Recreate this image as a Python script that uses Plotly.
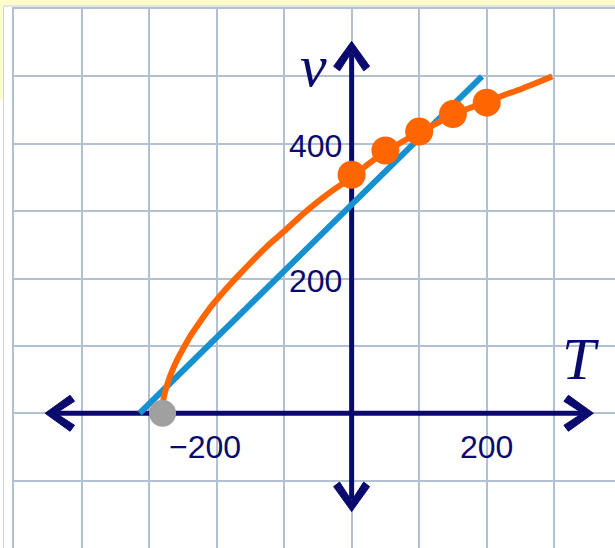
import plotly.graph_objects as go

# ---- data -------------------------------------------------------------
# Linear approximation (blue)
lin_T = [-314, 193]
lin_v = [0, 500]

# Model curve v(T) (orange)
curve_T = [-281, -279, -276, -272, -267, -260, -250, -238, -225, -210, -190,
           -170, -150, -125, -100, -75, -50, -25, 0, 25, 50, 75, 100, 125,
           150, 175, 200, 225, 250, 275, 297]
curve_v = [0, 19, 33, 46, 60, 76, 95, 116, 135, 156, 180,
           202, 223, 248, 270, 293, 314, 333, 350, 370, 388, 403, 417, 430,
           443, 453, 462, 472, 481, 491, 500]

# Measured points (orange dots)
meas_T = [0, 50, 100, 150, 200]
meas_v = [354, 390, 418, 444, 461]

# Absolute-zero point (grey dot)
zero_T = [-280]
zero_v = [0]

# Tick labels
x_ticks = [-200, 200]
x_tick_text = ["\u2212200", "200"]
y_ticks = [200, 400]
y_tick_text = ["200", "400"]

# ---- layout geometry ----------------------------------------------------
W, H = 615, 548
ML, MT = 14, 9
x_range = [-500, 390]
y_range = [-200, 600]
kx = (x_range[1] - x_range[0]) / (W - ML)   # data units per pixel
ky = (y_range[1] - y_range[0]) / (H - MT)

NAVY = "#0A0A6E"
GRID = "#B3BFD3"
ORANGE = "#FF6600"
BLUE = "#1690CF"

# axis extents (arrow tips)
x_axis = [-454, 358]
y_axis = [-146, 552]


def chevron(tx, ty, ux, uy):
    """Filled chevron arrowhead with its tip at (tx, ty) pointing along (ux, uy)."""
    wx, wy = -uy, ux
    pts = [(0, 0), (-25, 18), (-29.5, 12), (-11, 0), (-29.5, -12), (-25, -18)]
    coords = []
    for a, b in pts:
        coords.append((tx + (a * ux + b * wx) * kx, ty + (a * uy + b * wy) * ky))
    path = "M" + " L".join(f"{x:.3f},{y:.3f}" for x, y in coords) + " Z"
    return dict(type="path", xref="x", yref="y", path=path, fillcolor=NAVY,
                line=dict(color=NAVY, width=1), layer="between")


shapes = []
# axis lines
back = 12
shapes.append(dict(type="line", xref="x", yref="y",
                   x0=x_axis[0] + back * kx, x1=x_axis[1] - back * kx, y0=0, y1=0,
                   line=dict(color=NAVY, width=5), layer="between"))
shapes.append(dict(type="line", xref="x", yref="y",
                   x0=0, x1=0, y0=y_axis[0] + back * ky, y1=y_axis[1] - back * ky,
                   line=dict(color=NAVY, width=5), layer="between"))
shapes += [chevron(x_axis[1], 0, 1, 0), chevron(x_axis[0], 0, -1, 0),
           chevron(0, y_axis[1], 0, 1), chevron(0, y_axis[0], 0, -1)]

# page frame: pale yellow strips and thin grey border
pw, ph = W - ML, H - MT
def px(xp):
    return (xp - ML) / pw
def py(yp):
    return 1 - (yp - MT) / ph

YELLOW = "#FEFCCB"
shapes += [
    dict(type="rect", xref="paper", yref="paper", x0=px(0), x1=px(W), y0=py(5.5), y1=py(0),
         fillcolor=YELLOW, line=dict(width=0), layer="below"),
    dict(type="rect", xref="paper", yref="paper", x0=px(0), x1=px(3), y0=py(100), y1=py(0),
         fillcolor=YELLOW, line=dict(width=0), layer="below"),
    dict(type="line", xref="paper", yref="paper", x0=px(3.5), x1=px(W), y0=py(6), y1=py(6),
         line=dict(color="#CCCCCC", width=1)),
    dict(type="line", xref="paper", yref="paper", x0=px(3.5), x1=px(3.5), y0=py(6), y1=py(H),
         line=dict(color="#D6D6D6", width=1)),
]

fig = go.Figure()
fig.add_trace(go.Scatter(x=lin_T, y=lin_v, mode="lines",
                         line=dict(color=BLUE, width=6), hoverinfo="skip"))
fig.add_trace(go.Scatter(x=curve_T, y=curve_v, mode="lines",
                         line=dict(color=ORANGE, width=6, shape="spline", smoothing=0.6),
                         hoverinfo="skip"))
fig.add_trace(go.Scatter(x=meas_T, y=meas_v, mode="markers",
                         marker=dict(color=ORANGE, size=28, line=dict(width=0))))
fig.add_trace(go.Scatter(x=zero_T, y=zero_v, mode="markers",
                         marker=dict(color="#A0A0A0", size=27, line=dict(width=0))))

annotations = []
label_font = dict(family="Liberation Sans, Arial, sans-serif", size=32, color=NAVY)
for t, s in zip(x_ticks, x_tick_text):
    annotations.append(dict(x=t, y=0, xref="x", yref="y", text=s, showarrow=False,
                            font=label_font, xanchor="center", yanchor="middle",
                            xshift=-12 if t < 0 else 0, yshift=-34))
for v, s in zip(y_ticks, y_tick_text):
    annotations.append(dict(x=0, y=v, xref="x", yref="y", text=s, showarrow=False,
                            font=label_font, xanchor="right", yanchor="middle",
                            xshift=-8, yshift=-2))
axis_font = dict(family="Liberation Serif, Times New Roman, serif", size=60, color=NAVY)
annotations.append(dict(x=339, y=80, xref="x", yref="y", text="<i>T</i>",
                        showarrow=False, font=axis_font, xanchor="center", yanchor="middle"))
annotations.append(dict(x=-56, y=515, xref="x", yref="y", text="<i>v</i>",
                        showarrow=False, font=axis_font, xanchor="center", yanchor="middle"))

axis_common = dict(showgrid=True, gridcolor=GRID, gridwidth=1.5, dtick=100, tick0=0,
                   zeroline=False, showticklabels=False, ticks="",
                   showline=True, linecolor=GRID, linewidth=1.5, mirror=True,
                   fixedrange=True)
fig.update_layout(
    width=W, height=H,
    margin=dict(l=ML, t=MT, r=0, b=0, pad=0, autoexpand=False),
    paper_bgcolor="white", plot_bgcolor="white",
    showlegend=False,
    xaxis=dict(range=x_range, **axis_common),
    yaxis=dict(range=y_range, **axis_common),
    shapes=shapes, annotations=annotations,
)

fig.write_html("out.html")
